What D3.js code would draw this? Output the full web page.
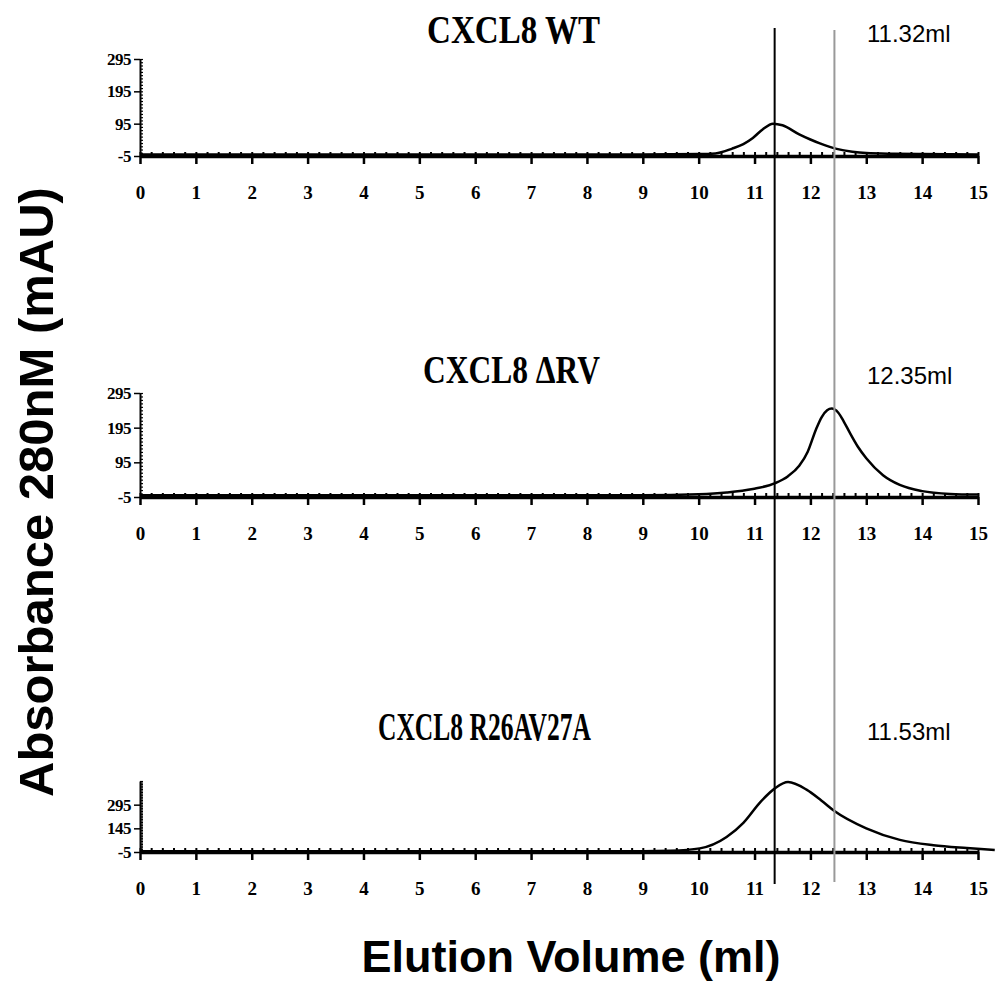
<!DOCTYPE html>
<html>
<head>
<meta charset="utf-8">
<script src="https://d3js.org/d3.v7.min.js"></script>
<style>
  body { margin: 0; background: #fff; }
  .tick text { font-family: "Liberation Serif", "Times New Roman", serif; font-weight: bold; }
</style>
</head>
<body>
<div id="output"></div>
<script>
// elution volume ticks (ml)
var xTicks = [0,1,2,3,4,5,6,7,8,9,10,11,12,13,14,15];

// panel titles, peak labels, y ticks
var titles = ["CXCL8 WT", "CXCL8 \u0394RV", "CXCL8 R26AV27A"];
var peakLabels = ["11.32ml", "12.35ml", "11.53ml"];
var yTicksWT = [-5, 95, 195, 295];
var yTicksRV = [-5, 95, 195, 295];
var yTicksMut = [-5, 145, 295];
var yMax = [295, 295, 445];

// traces: [volume ml, absorbance mAU]
var traceWT = [[0,0],[9,0],[10,1],[10.3,3],[10.6,18],[10.8,32],[10.97,51],[11.15,78],[11.33,95],[11.5,90],[11.8,62],[12.0,46],[12.17,34],[12.47,17],[12.75,8],[13.0,4],[13.5,2],[14,1],[15,0]];
var traceRV = [[0,0],[9,0],[10.0,3],[10.5,8],[10.97,18],[11.37,35],[11.6,55],[11.8,85],[11.95,125],[12.1,190],[12.2,225],[12.3,245],[12.38,250],[12.5,238],[12.6,212],[12.7,182],[12.85,140],[13.0,107],[13.3,58],[13.6,30],[14.0,12],[14.5,4],[15,2]];
var traceMut = [[0,0],[9,0],[9.5,3],[10.02,18],[10.5,90],[10.8,180],[11.1,310],[11.37,400],[11.6,438],[11.93,390],[12.2,320],[12.43,255],[13.0,145],[13.6,72],[14.2,38],[14.8,20],[15.3,8]];

// reference lines (ml) for the WT and dRV peaks
var refBlack = 11.36, refGray = 12.43;

var W = 996, H = 985;
var svg = d3.select("#output").append("svg")
  .attr("width", W).attr("height", H)
  .style("font-family", "'Liberation Serif', serif");

var x = d3.scaleLinear().domain([0, 15]).range([140, 978]);

// panels: y0 = pixel of -5, y1 = pixel of top
var panels = [
  { trace: traceWT, ticks: yTicksWT, top: yMax[0], y0: 156, y1: 59, title: titles[0], tx: 427, tw: 173, ty: 43, label: peakLabels[0], ly: 42 },
  { trace: traceRV, ticks: yTicksRV, top: yMax[1], y0: 497, y1: 393, title: titles[1], tx: 423, tw: 177, ty: 383, label: peakLabels[1], ly: 384 },
  { trace: traceMut, ticks: yTicksMut, top: yMax[2], y0: 852, y1: 781, title: titles[2], tx: 378, tw: 213, ty: 740, label: peakLabels[2], ly: 740 }
];

panels.forEach(function(p, i) {
  var y = d3.scaleLinear().domain([-5, p.top]).range([p.y0, p.y1]);
  var g = svg.append("g");

  // minor y ticks on inside
  var yMinor = d3.range(-5, p.top + 1, 10);
  g.append("g")
    .attr("transform", "translate(" + x(0) + ",0)")
    .call(d3.axisRight(y).tickValues(yMinor).tickSize(3).tickFormat(""))
    .call(function(a) { a.select(".domain").remove(); a.selectAll("line").attr("stroke-width", 1.2); });

  // major y axis
  var ya = g.append("g")
    .attr("transform", "translate(" + x(0) + ",0)")
    .call(d3.axisLeft(y).tickValues(p.ticks).tickSize(6).tickSizeOuter(0).tickPadding(3)
      .tickFormat(function(d) { return String(d); }));
  ya.select(".domain").attr("stroke-width", 2);
  ya.selectAll(".tick line").attr("stroke-width", 1.5);
  ya.selectAll(".tick text").style("font-size", "17px").attr("letter-spacing", "-0.5px");

  // minor x ticks above the axis
  g.append("g")
    .attr("transform", "translate(0," + p.y0 + ")")
    .call(d3.axisTop(x).tickValues(d3.range(0, 15.01, 0.2)).tickSize(4).tickFormat(""))
    .call(function(a) { a.select(".domain").remove(); a.selectAll("line").attr("stroke-width", 2); });

  // major x axis
  var xa = g.append("g")
    .attr("transform", "translate(0," + p.y0 + ")")
    .call(d3.axisBottom(x).tickValues(xTicks).tickSize(8).tickSizeOuter(0).tickPadding(22));
  xa.select(".domain").attr("stroke-width", 3.5);
  xa.selectAll(".tick line").attr("stroke-width", 2.5);
  xa.selectAll(".tick text").style("font-size", "19px");

  // trace
  var line = d3.line()
    .x(function(d) { return x(d[0]); })
    .y(function(d) { return y(d[1]); })
    .curve(d3.curveMonotoneX);
  g.append("path")
    .datum(p.trace)
    .attr("d", line)
    .attr("fill", "none")
    .attr("stroke", "#000")
    .attr("stroke-width", 2.5);

  // title
  g.append("text")
    .attr("x", p.tx).attr("y", p.ty)
    .attr("textLength", p.tw).attr("lengthAdjust", "spacingAndGlyphs")
    .style("font-family", "'Liberation Serif', serif")
    .style("font-weight", "bold")
    .style("font-size", "39px")
    .text(p.title);

  // peak label
  g.append("text")
    .attr("x", 867).attr("y", p.ly)
    .style("font-family", "'Liberation Sans', Arial, sans-serif")
    .style("font-size", "24px")
    .text(p.label);
});

// vertical reference lines across the panels
svg.append("line")
  .attr("x1", x(refGray)).attr("x2", x(refGray))
  .attr("y1", 30).attr("y2", 882)
  .attr("stroke", "#999").attr("stroke-width", 2);
svg.append("line")
  .attr("x1", x(refBlack)).attr("x2", x(refBlack))
  .attr("y1", 28).attr("y2", 884)
  .attr("stroke", "#000").attr("stroke-width", 2);

// axis titles
svg.append("text")
  .attr("transform", "translate(53,492) rotate(-90)")
  .attr("text-anchor", "middle")
  .style("font-family", "'Liberation Sans', Arial, sans-serif")
  .style("font-weight", "bold")
  .style("font-size", "49px")
  .text("Absorbance 280nM (mAU)");

svg.append("text")
  .attr("x", 571).attr("y", 972)
  .attr("text-anchor", "middle")
  .style("font-family", "'Liberation Sans', Arial, sans-serif")
  .style("font-weight", "bold")
  .style("font-size", "45px")
  .text("Elution Volume (ml)");
</script>
</body>
</html>
